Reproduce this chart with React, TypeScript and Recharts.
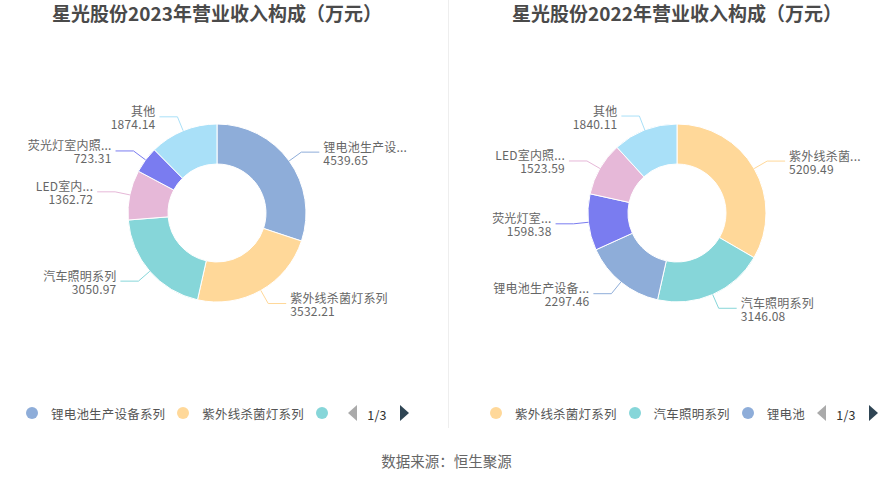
import React from "react";
import { PieChart, Pie, Cell, Legend } from "recharts";

const NAMES_2023 = ["锂电池生产设备系列", "紫外线杀菌灯系列", "汽车照明系列", "LED室内照明系列", "荧光灯室内照明系列", "其他"];
const VALUES_2023 = [4539.65, 3532.21, 3050.97, 1362.72, 723.31, 1874.14];
const LABELS_2023 = ["锂电池生产设...", "紫外线杀菌灯系列", "汽车照明系列", "LED室内...", "荧光灯室内照...", "其他"];
const LEGEND_2023 = ["锂电池生产设备系列", "紫外线杀菌灯系列", ""];
const LEGEND_COLORS_2023 = ["锂电池生产设备系列", "紫外线杀菌灯系列", "汽车照明系列"];

const NAMES_2022 = ["紫外线杀菌灯系列", "汽车照明系列", "锂电池生产设备系列", "荧光灯室内照明系列", "LED室内照明系列", "其他"];
const VALUES_2022 = [5209.49, 3146.08, 2297.46, 1598.38, 1523.59, 1840.11];
const LABELS_2022 = ["紫外线杀菌...", "汽车照明系列", "锂电池生产设备...", "荧光灯室...", "LED室内照...", "其他"];
const LEGEND_2022 = ["紫外线杀菌灯系列", "汽车照明系列", "锂电池"];
const LEGEND_COLORS_2022 = ["紫外线杀菌灯系列", "汽车照明系列", "锂电池生产设备系列"];

const TITLE_2023 = "星光股份2023年营业收入构成（万元）";
const TITLE_2022 = "星光股份2022年营业收入构成（万元）";
const PAGER = "1/3";
const SOURCE = "数据来源：恒生聚源";

const COLORS: Record<string, string> = {
  "锂电池生产设备系列": "#8eadd9",
  "紫外线杀菌灯系列": "#ffd899",
  "汽车照明系列": "#86d6d9",
  "LED室内照明系列": "#e6b8d8",
  "荧光灯室内照明系列": "#7a7cf0",
  "其他": "#a9e0f8",
};

const FONT = "'Noto Sans CJK SC', 'Noto Sans', sans-serif";
const RAD = Math.PI / 180;

const makeLabel = (labels: string[]) => (props: any) => {
  const { cx, cy, midAngle, outerRadius, index, fill, value } = props;
  const cos = Math.cos(-midAngle * RAD);
  const sin = Math.sin(-midAngle * RAD);
  const sx = cx + outerRadius * cos;
  const sy = cy + outerRadius * sin;
  const mx = cx + (outerRadius + 15) * cos;
  const my = cy + (outerRadius + 15) * sin;
  const right = cos >= 0;
  const ex = mx + (right ? 18 : -18);
  const tx = ex + (right ? 4 : -4);
  const anchor = right ? "start" : "end";
  return (
    <g>
      <polyline points={`${sx},${sy} ${mx},${my} ${ex},${my}`} fill="none" stroke={fill} strokeWidth={1} />
      <text x={tx} y={my - 6.5} textAnchor={anchor} dominantBaseline="central" fill="#666" fontSize={12} letterSpacing={0.2} fontFamily={FONT}>
        <tspan x={tx} dy={0}>{labels[index]}</tspan>
        <tspan x={tx} dy={13}>{Number(value).toFixed(2)}</tspan>
      </text>
    </g>
  );
};

const LegendBox = ({ items, colors, left }: { items: string[]; colors: string[]; left: number }) => (
  <div style={{ position: "absolute", left, top: 403, height: 20, display: "flex", alignItems: "center", fontFamily: FONT, fontSize: 12.5, letterSpacing: 0.2, color: "#555", whiteSpace: "nowrap" }}>
    {items.map((name, i) => (
      <div key={i} style={{ display: "flex", alignItems: "center", marginRight: name === "" ? 20 : 12 }}>
        <span style={{ width: 12, height: 12, borderRadius: 6, background: COLORS[colors[i]], display: "inline-block" }} />
        {name !== "" && <span style={{ marginLeft: 13 }}>{name}</span>}
      </div>
    ))}
    <svg width={62} height={20}>
      <polygon points="9,2 9,18 0,10" fill="#aaa" />
      <text x={29} y={11} textAnchor="middle" dominantBaseline="central" fontSize={12.5} fill="#333" fontFamily={FONT}>{PAGER}</text>
      <polygon points="52,2 52,18 61,10" fill="#2f4554" />
    </svg>
  </div>
);

const OnePie = ({ names, values, labels, legend, legendColors, title, left, width, cx, legendLeft }: any) => {
  const data = names.map((n: string, i: number) => ({ name: n, value: values[i] }));
  return (
    <div style={{ position: "absolute", left, top: 0, width, height: 481 }}>
      <div style={{ position: "absolute", left: 0, top: 2, width: cx * 2, textAlign: "center", fontFamily: FONT, fontSize: 19, fontWeight: 700, color: "#4a4a4a", lineHeight: "22px" }}>
        {title}
      </div>
      <PieChart width={width} height={430} margin={{ top: 0, right: 0, bottom: 0, left: 0 }}>
        <Pie
          data={data}
          dataKey="value"
          nameKey="name"
          cx={cx}
          cy={213}
          innerRadius={49}
          outerRadius={89}
          startAngle={90}
          endAngle={-270}
          stroke="#fff"
          strokeWidth={1}
          isAnimationActive={false}
          labelLine={false}
          label={makeLabel(labels)}
        >
          {data.map((d: any, i: number) => (
            <Cell key={i} fill={COLORS[d.name]} />
          ))}
        </Pie>
        <Legend content={() => null} />
      </PieChart>
      <LegendBox items={legend} colors={legendColors} left={legendLeft} />
    </div>
  );
};

export default function App() {
  return (
    <div style={{ position: "absolute", left: 0, top: 0, width: 893, height: 481, background: "#fff", overflow: "hidden" }}>
      <OnePie names={NAMES_2023} values={VALUES_2023} labels={LABELS_2023} legend={LEGEND_2023} legendColors={LEGEND_COLORS_2023} title={TITLE_2023} left={0} width={447} cx={217} legendLeft={26} />
      <OnePie names={NAMES_2022} values={VALUES_2022} labels={LABELS_2022} legend={LEGEND_2022} legendColors={LEGEND_COLORS_2022} title={TITLE_2022} left={447} width={446} cx={230} legendLeft={43} />
      <div style={{ position: "absolute", left: 448, top: 0, width: 1, height: 428, background: "#eee" }} />
      <div style={{ position: "absolute", left: 0, top: 451, width: 893, textAlign: "center", fontFamily: FONT, fontSize: 14.5, color: "#666", lineHeight: "20px" }}>
        {SOURCE}
      </div>
    </div>
  );
}
